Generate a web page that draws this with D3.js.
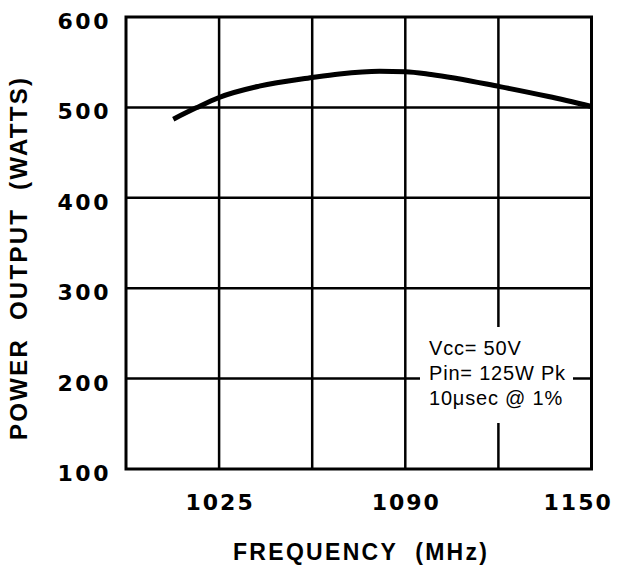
<!DOCTYPE html>
<html>
<head>
<meta charset="utf-8">
<script src="https://cdn.jsdelivr.net/npm/d3@7"></script>
<style>
  body { margin: 0; background: #fff; }
  svg { display: block; }
</style>
</head>
<body>
<svg id="chart"></svg>
<script>
document.addEventListener("DOMContentLoaded", function() {
  const width = 623;
  const height = 569;
  const margin = {top: 17, right: 32, bottom: 100, left: 126};

  // data
  const frequency = [1009, 1017, 1025, 1039, 1057.5, 1067, 1081, 1090, 1099, 1123, 1140, 1155];
  const powerOut  = [487, 499.5, 511, 523.5, 533, 537, 540, 539.5, 536.5, 523, 512, 501];

  const xGrid = [1025, 1057.5, 1090, 1122.5];
  const xTickLabels = [1025, 1090, 1150];
  const yTicks = [100, 200, 300, 400, 500, 600];
  const notes = ["Vcc= 50V", "Pin= 125W Pk", "10\u03bcsec @ 1%"];

  const svg = d3.select("#chart")
                .attr("width", width)
                .attr("height", height);

  const x = d3.scaleLinear()
              .domain([992.5, 1155])
              .range([margin.left, width - margin.right + 0.5]);
  const y = d3.scaleLinear()
              .domain([100, 600])
              .range([height - margin.bottom, margin.top]);

  const ink = "#000";

  // grid
  svg.append("g")
    .selectAll("line")
    .data(xGrid)
    .enter()
    .append("line")
      .attr("x1", d => x(d))
      .attr("x2", d => x(d))
      .attr("y1", y(600))
      .attr("y2", y(100))
      .style("stroke", ink)
      .style("stroke-width", 2.5);

  svg.append("g")
    .selectAll("line")
    .data(yTicks.slice(1, -1))
    .enter()
    .append("line")
      .attr("x1", x.range()[0])
      .attr("x2", x.range()[1])
      .attr("y1", d => y(d))
      .attr("y2", d => y(d))
      .style("stroke", ink)
      .style("stroke-width", 2.5);

  // curve
  const line = d3.line()
                 .x((d, i) => x(frequency[i]))
                 .y(d => y(d))
                 .curve(d3.curveMonotoneX);

  svg.append("path")
    .datum(powerOut)
    .attr("d", line)
    .style("fill", "none")
    .style("stroke", ink)
    .style("stroke-width", 5);

  // note box, blanks the grid behind it
  const noteX = 420;
  svg.append("rect")
    .attr("x", noteX)
    .attr("y", 327)
    .attr("width", 153)
    .attr("height", 96)
    .style("fill", "#fff");

  svg.append("g")
    .selectAll("text")
    .data(notes)
    .enter()
    .append("text")
      .attr("x", noteX + 9)
      .attr("y", (d, i) => 355 + i * 25)
      .style("font-family", "Liberation Sans, Arial, sans-serif")
      .style("font-size", "20px")
      .style("letter-spacing", "0.8px")
      .text(d => d);

  // frame
  svg.append("rect")
    .attr("x", x.range()[0])
    .attr("y", y(600))
    .attr("width", x.range()[1] - x.range()[0])
    .attr("height", y(100) - y(600))
    .style("fill", "none")
    .style("stroke", ink)
    .style("stroke-width", 3);

  // tick labels
  svg.append("g")
    .selectAll("text")
    .data(yTicks)
    .enter()
    .append("text")
      .attr("x", 111)
      .attr("y", d => y(d) + 12)
      .attr("text-anchor", "end")
      .style("font-family", "DejaVu Sans, sans-serif")
      .style("font-weight", "bold")
      .style("font-size", "22px")
      .style("letter-spacing", "2.5px")
      .text(d => d);

  svg.append("g")
    .selectAll("text")
    .data(xTickLabels)
    .enter()
    .append("text")
      .attr("x", d => x(d) + 1)
      .attr("y", 510)
      .attr("text-anchor", "middle")
      .style("font-family", "DejaVu Sans, sans-serif")
      .style("font-weight", "bold")
      .style("font-size", "22px")
      .style("letter-spacing", "2px")
      .text(d => d);

  // axis titles
  svg.append("text")
    .attr("x", 233)
    .attr("y", 560)
    .attr("textLength", 254)
    .attr("lengthAdjust", "spacing")
    .style("font-family", "Liberation Sans, Arial, sans-serif")
    .style("font-weight", "bold")
    .style("font-size", "23px")
    .style("white-space", "pre")
    .text("FREQUENCY  (MHz)");

  svg.append("text")
    .attr("transform", "translate(27,440) rotate(-90)")
    .attr("textLength", 362)
    .attr("lengthAdjust", "spacing")
    .style("font-family", "Liberation Sans, Arial, sans-serif")
    .style("font-weight", "bold")
    .style("font-size", "24px")
    .style("white-space", "pre")
    .text("POWER  OUTPUT  (WATTS)");
});
</script>
</body>
</html>
